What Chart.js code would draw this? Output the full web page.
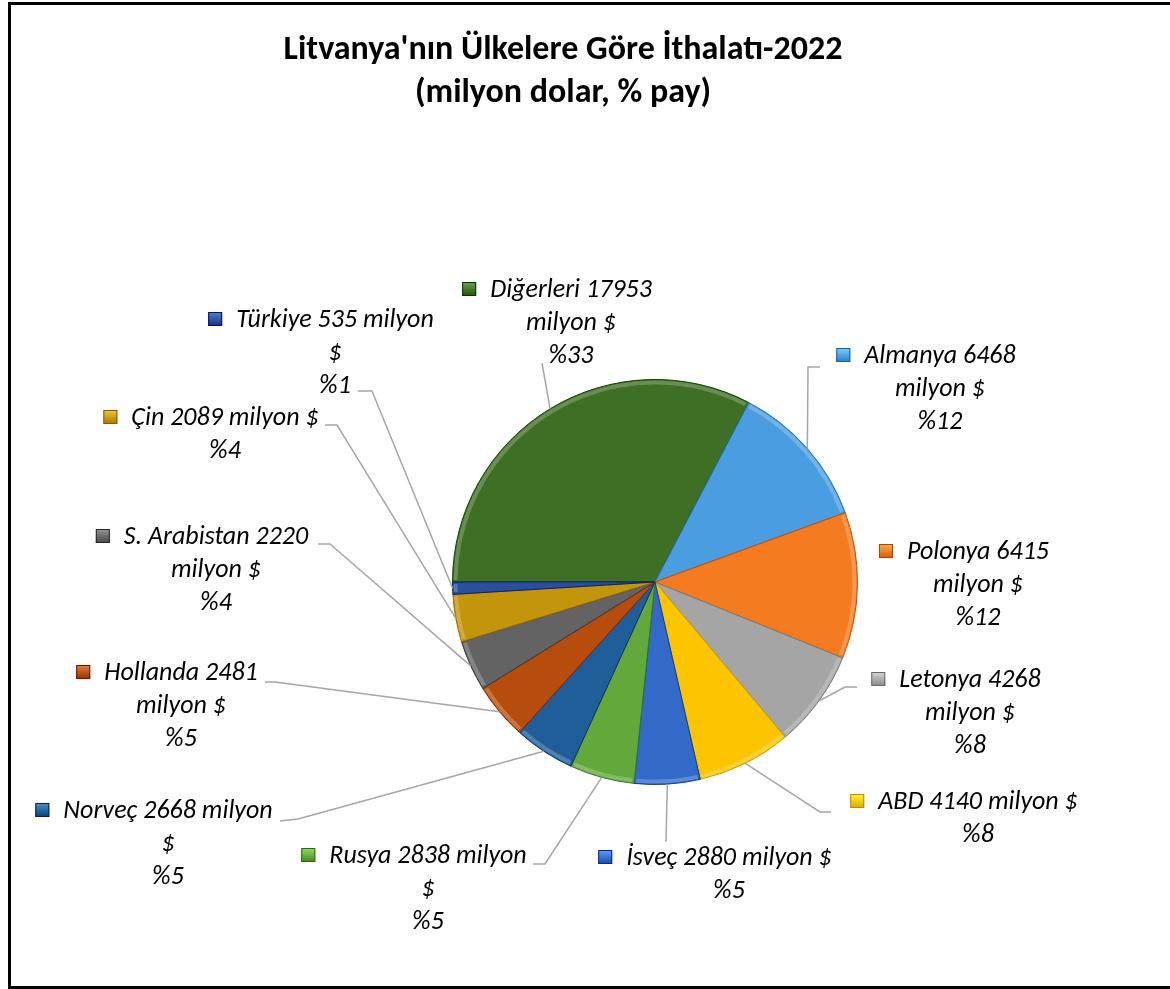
<!DOCTYPE html>
<html>
<head>
  <meta charset="utf-8">
  <title>Litvanya İthalatı 2022</title>
  <script src="https://cdn.jsdelivr.net/npm/chart.js"></script>
  <style>
    html, body { margin: 0; padding: 0; background: #fff; overflow: hidden; }
    #frame { position: absolute; left: 8px; top: 2px; width: 1200px; height: 987px;
             border: 3px solid #000; box-sizing: border-box; }
    #pie { position: absolute; left: 0; top: 0; }
  </style>
</head>
<body>
  <div id="frame"></div>
  <canvas id="pie" width="1170" height="989"></canvas>

  <script>
    const titleLines = ["Litvanya'nın Ülkelere Göre İthalatı-2022", "(milyon dolar, % pay)"];

    const countries = ['Diğerleri', 'Almanya', 'Polonya', 'Letonya', 'ABD', 'İsveç',
                       'Rusya', 'Norveç', 'Hollanda', 'S. Arabistan', 'Çin', 'Türkiye'];
    const values = [17953, 6468, 6415, 4268, 4140, 2880, 2838, 2668, 2481, 2220, 2089, 535];
    const shares = [33, 12, 12, 8, 8, 5, 5, 5, 5, 4, 4, 1];
    const colors = ['#3f6f24', '#4a9de0', '#f47b20', '#a5a5a5', '#fcc500', '#3369c9',
                    '#62a83b', '#1f5e98', '#b64d0d', '#636363', '#c3950a', '#2b4f9c'];

    const FONT = 'Carlito, Lato, "Open Sans", sans-serif';

    // where Excel put each data label: text centre, first line y, words on first line, leader path
    const labelLayout = [
      { cx: 571, y: 290, words: 2, leader: [[542, 363]] },
      { cx: 940, y: 356, words: 2, leader: [[808, 367], [820, 367]] },
      { cx: 978, y: 552, words: 2, leader: null },
      { cx: 970, y: 680, words: 2, leader: [[845, 687], [857, 687]] },
      { cx: 978, y: 802, words: 4, leader: [[820, 812], [831, 812]] },
      { cx: 729, y: 858, words: 4, leader: [[666, 842]] },
      { cx: 428, y: 856, words: 3, leader: [[545, 864], [533, 864]] },
      { cx: 168, y: 811, words: 3, leader: [[298, 819], [280, 821]] },
      { cx: 181, y: 673, words: 2, leader: [[275, 682], [265, 682]] },
      { cx: 216, y: 537, words: 3, leader: [[330, 544], [318, 544]] },
      { cx: 225, y: 418, words: 4, leader: [[337, 425], [325, 425]] },
      { cx: 335, y: 320, words: 3, leader: [[372, 391], [358, 391]] }
    ];
    const lineGap = 33;

    function shade(hex, amt) {
      const n = parseInt(hex.slice(1), 16);
      const f = c => Math.max(0, Math.min(255, Math.round(c + amt)));
      const r = f(n >> 16), g = f((n >> 8) & 255), b = f(n & 255);
      return `rgb(${r},${g},${b})`;
    }

    const outsideLabels = {
      id: 'outsideLabels',
      afterDatasetsDraw(chart) {
        const ctx = chart.ctx;
        const arcs = chart.getDatasetMeta(0).data;
        ctx.save();

        // bevel-ish rim on each slice
        arcs.forEach((arc, i) => {
          const p = arc.getProps(['x', 'y', 'startAngle', 'endAngle', 'outerRadius']);
          ctx.beginPath();
          ctx.arc(p.x, p.y, p.outerRadius - 3, p.startAngle + 0.01, p.endAngle - 0.01);
          ctx.strokeStyle = 'rgba(255,255,255,0.22)';
          ctx.lineWidth = 4;
          ctx.stroke();
        });

        // title
        ctx.fillStyle = '#000';
        ctx.textAlign = 'center';
        ctx.textBaseline = 'middle';
        ctx.font = 'bold 34px ' + FONT;
        titleLines.forEach((t, i) => ctx.fillText(t, 563, 50 + i * 43));

        ctx.font = 'italic 26px ' + FONT;
        arcs.forEach((arc, i) => {
          const lay = labelLayout[i];
          const p = arc.getProps(['x', 'y', 'startAngle', 'endAngle', 'outerRadius']);
          const mid = (p.startAngle + p.endAngle) / 2;

          if (lay.leader) {
            ctx.beginPath();
            ctx.moveTo(p.x + p.outerRadius * Math.cos(mid), p.y + p.outerRadius * Math.sin(mid));
            lay.leader.forEach(pt => ctx.lineTo(pt[0], pt[1]));
            ctx.strokeStyle = '#a6a6a6';
            ctx.lineWidth = 1.5;
            ctx.stroke();
          }

          const words = `${countries[i]} ${values[i]} milyon $`.split(' ');
          const lines = [words.slice(0, lay.words).join(' ')];
          if (words.length > lay.words) lines.push(words.slice(lay.words).join(' '));
          lines.push('%' + shares[i]);

          ctx.fillStyle = '#000';
          lines.forEach((t, j) => ctx.fillText(t, lay.cx, lay.y + j * lineGap));

          // legend key in front of the first line
          const w = ctx.measureText(lines[0]).width;
          const mx = lay.cx - w / 2 - 28, my = lay.y - 8;
          const g = ctx.createLinearGradient(mx, my, mx, my + 14);
          g.addColorStop(0, shade(colors[i], 50));
          g.addColorStop(1, shade(colors[i], -30));
          ctx.fillStyle = g;
          ctx.fillRect(mx, my, 14, 14);
          ctx.strokeStyle = shade(colors[i], -60);
          ctx.lineWidth = 1;
          ctx.strokeRect(mx + 0.5, my + 0.5, 13, 13);
        });
        ctx.restore();
      }
    };

    new Chart(document.getElementById('pie'), {
      type: 'pie',
      data: {
        labels: countries,
        datasets: [{
          data: values,
          backgroundColor: colors,
          borderColor: colors.map(c => shade(c, -45)),
          borderWidth: 1,
          hoverOffset: 0
        }]
      },
      options: {
        responsive: false,
        animation: false,
        rotation: 270,
        layout: { padding: { left: 452, right: 312, top: 379, bottom: 204 } },
        plugins: {
          legend: { display: false },
          title: { display: false },
          tooltip: { enabled: false }
        }
      },
      plugins: [outsideLabels]
    });
  </script>
</body>
</html>
